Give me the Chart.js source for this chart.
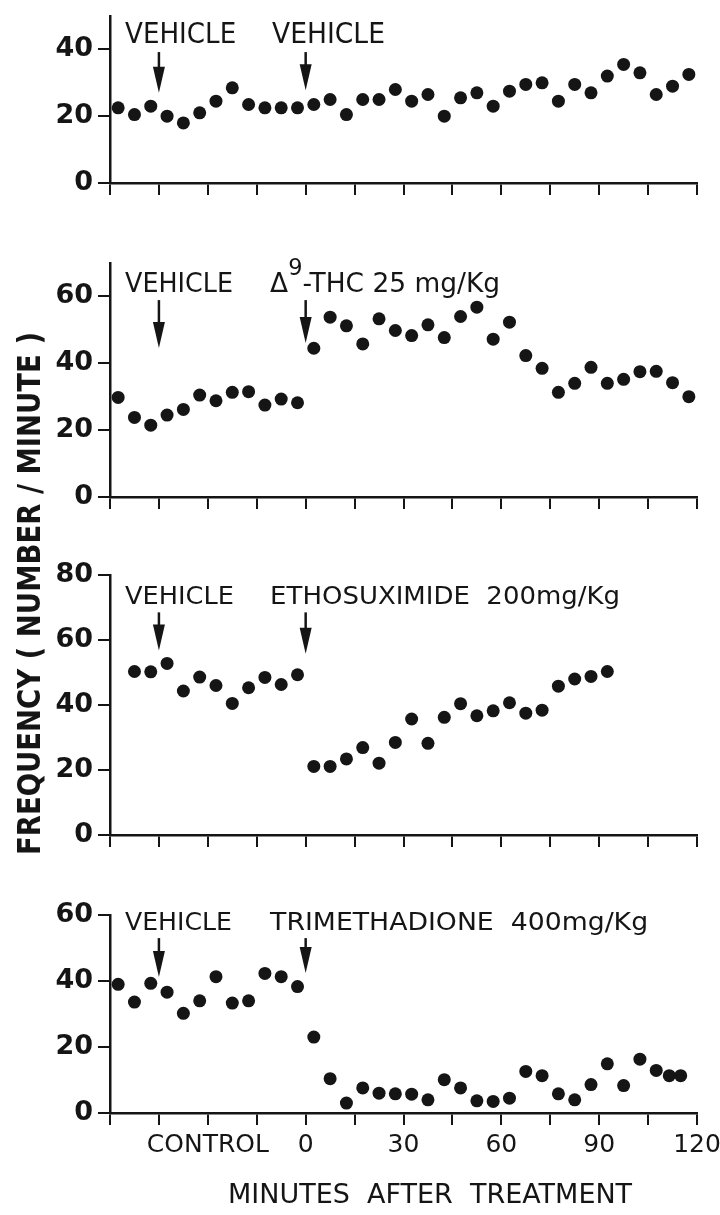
<!DOCTYPE html>
<html>
<head>
<meta charset="utf-8">
<script src="https://cdn.jsdelivr.net/npm/chart.js@4.4.1/dist/chart.umd.min.js"></script>
<style>
    body { margin: 0; background: #fff; width: 720px; height: 1215px; position: relative; overflow: hidden; }
    canvas { position: absolute; left: 0; }
</style>
</head>
<body>
<canvas id="panel1" width="720" height="215" style="top:0px"></canvas>
<canvas id="panel2" width="720" height="290" style="top:240px"></canvas>
<canvas id="panel3" width="720" height="320" style="top:550px"></canvas>
<canvas id="panel4" width="720" height="345" style="top:870px"></canvas>
<canvas id="ytitle" width="60" height="600" style="top:295px"></canvas>
<script>
// minutes after treatment (5-min bins)
const minutesFull = [-57.5, -52.5, -47.5, -42.5, -37.5, -32.5, -27.5, -22.5, -17.5, -12.5, -7.5, -2.5,
    2.5, 7.5, 12.5, 17.5, 22.5, 27.5, 32.5, 37.5, 42.5, 47.5, 52.5, 57.5,
    62.5, 67.5, 72.5, 77.5, 82.5, 87.5, 92.5, 97.5, 102.5, 107.5, 112.5, 117.5];
const minutesEtho = [-52.5, -47.5, -42.5, -37.5, -32.5, -27.5, -22.5, -17.5, -12.5, -7.5, -2.5,
    2.5, 7.5, 12.5, 17.5, 22.5, 27.5, 32.5, 37.5, 42.5, 47.5, 52.5, 57.5,
    62.5, 67.5, 72.5, 77.5, 82.5, 87.5, 92.5];
const minutesTrim = [-57.5, -52.5, -47.5, -42.5, -37.5, -32.5, -27.5, -22.5, -17.5, -12.5, -7.5, -2.5,
    2.5, 7.5, 12.5, 17.5, 22.5, 27.5, 32.5, 37.5, 42.5, 47.5, 52.5, 57.5,
    62.5, 67.5, 72.5, 77.5, 82.5, 87.5, 92.5, 97.5, 102.5, 107.5, 111.5, 115];

// frequency (number / minute)
const vehicleFreq = [22.5, 20.5, 23, 20, 18, 21, 24.5, 28.5, 23.5, 22.5, 22.5, 22.5,
    23.5, 25, 20.5, 25, 25, 28, 24.5, 26.5, 20, 25.5, 27, 23,
    27.5, 29.5, 30, 24.5, 29.5, 27, 32, 35.5, 33, 26.5, 29, 32.5];
const thcFreq = [29.8, 23.8, 21.5, 24.5, 26.2, 30.5, 28.8, 31.3, 31.5, 27.5, 29.3, 28.2,
    44.5, 53.8, 51.2, 45.8, 53.3, 49.8, 48.3, 51.5, 47.7, 54, 56.8, 47.2,
    52.3, 42.3, 38.5, 31.3, 34, 38.8, 34, 35.2, 37.5, 37.6, 34.2, 30];
const ethoFreq = [50.3, 50.2, 52.8, 44.3, 48.6, 46, 40.5, 45.3, 48.5, 46.3, 49.3,
    21.1, 21.1, 23.4, 26.9, 22.1, 28.5, 35.7, 28.2, 36.2, 40.4, 36.7, 38.2,
    40.7, 37.5, 38.4, 45.8, 48, 48.8, 50.3];
const trimFreq = [39, 33.6, 39.3, 36.6, 30.2, 34, 41.3, 33.3, 34, 42.3, 41.3, 38.3,
    23, 10.4, 3, 7.6, 6, 5.8, 5.7, 4, 10.1, 7.6, 3.7, 3.5,
    4.5, 12.6, 11.3, 5.8, 4, 8.6, 14.9, 8.3, 16.3, 12.9, 11.3, 11.3];

// axis ticks
const xTickValues = [-30, 0, 30, 60, 90, 120];
const xTickLabels = ["CONTROL", "0", "30", "60", "90", "120"];
const yMaxes = [50, 70, 80, 60];

const INK = "#151515";
const FONT = "'DejaVu Sans', 'Liberation Sans', sans-serif";

function pairs(xs, ys) {
    return xs.map((x, i) => ({ x, y: ys[i] }));
}

// text squeezed to a given width, like the condensed lettering of the figure
function drawFit(ctx, parts, x0, base, cap, width, weight) {
    const size = cap / 0.729;
    const fonts = parts.map(p => `${weight || "normal"} ${p.sup ? size * 0.85 : size}px ${FONT}`);
    const widths = parts.map((p, i) => { ctx.font = fonts[i]; return ctx.measureText(p.t).width; });
    const total = widths.reduce((a, b) => a + b, 0);
    ctx.save();
    ctx.translate(x0, base);
    ctx.scale(width / total, 1);
    ctx.textAlign = "left";
    ctx.textBaseline = "alphabetic";
    let cx = 0;
    parts.forEach((p, i) => {
        ctx.font = fonts[i];
        ctx.fillText(p.t, cx, p.sup ? -cap * 0.85 : 0);
        cx += widths[i];
    });
    ctx.restore();
}

function drawArrow(ctx, x, yTop, yBot) {
    const headLen = 26, headW = 6;
    ctx.lineWidth = 2.5;
    ctx.beginPath();
    ctx.moveTo(x, yTop);
    ctx.lineTo(x, yBot - headLen + 2);
    ctx.stroke();
    ctx.beginPath();
    ctx.moveTo(x - headW, yBot - headLen);
    ctx.lineTo(x + headW, yBot - headLen);
    ctx.lineTo(x, yBot);
    ctx.closePath();
    ctx.fill();
}

const annotate = {
    id: "annotate",
    afterDraw(chart, args, opts) {
        const { ctx, chartArea } = chart;
        const x = chart.scales.x, y = chart.scales.y;
        ctx.save();
        ctx.fillStyle = INK;
        ctx.strokeStyle = INK;
        (opts.arrows || []).forEach(a => {
            drawArrow(ctx, x.getPixelForValue(a.at), y.getPixelForValue(a.from), y.getPixelForValue(a.to));
        });
        (opts.labels || []).forEach(l => {
            const x0 = x.getPixelForValue(l.from);
            drawFit(ctx, l.parts, x0, y.getPixelForValue(l.base), l.cap, x.getPixelForValue(l.to) - x0);
        });
        if (opts.title) {
            const t = opts.title;
            const x0 = x.getPixelForValue(t.from);
            drawFit(ctx, [{ t: t.text }], x0, chartArea.bottom + t.below, t.cap, x.getPixelForValue(t.to) - x0);
        }
        ctx.restore();
    },
};

function makePanel(id, points, yMax, padTop, xHeight, showX, annotations) {
    const ctx = document.getElementById(id).getContext("2d");
    return new Chart(ctx, {
        type: "scatter",
        data: {
            datasets: [{
                data: points,
                backgroundColor: INK,
                borderWidth: 0,
                pointRadius: 6.5,
                pointHoverRadius: 6.5,
            }],
        },
        options: {
            responsive: false,
            animation: false,
            layout: { padding: { left: 0, right: 23, top: padTop, bottom: 0 } },
            plugins: { legend: { display: false }, tooltip: { enabled: false }, annotate: annotations },
            scales: {
                x: {
                    type: "linear",
                    min: -60,
                    max: 120,
                    ticks: {
                        stepSize: 15,
                        autoSkip: false,
                        maxRotation: 0,
                        color: INK,
                        padding: 5,
                        font: { family: FONT, size: 25 },
                        callback: v => {
                            if (!showX) return "";
                            const i = xTickValues.indexOf(v);
                            return i >= 0 ? xTickLabels[i] : "";
                        },
                    },
                    grid: { drawOnChartArea: false, tickLength: 12, color: INK, lineWidth: 2 },
                    border: { color: INK, width: 2.5 },
                    afterFit(s) { s.height = xHeight; s.paddingLeft = 0; s.paddingRight = 0; },
                },
                y: {
                    min: 0,
                    max: yMax,
                    ticks: {
                        stepSize: 10,
                        color: INK,
                        padding: 5,
                        font: { family: FONT, size: 27, weight: "bold" },
                        callback: v => (v % 20 === 0 ? String(v) : ""),
                    },
                    grid: { drawOnChartArea: false, tickLength: 12, color: INK, lineWidth: 2 },
                    border: { color: INK, width: 2.5 },
                    afterFit(s) { s.width = 110; s.paddingTop = 0; s.paddingBottom = 0; },
                },
            },
        },
        plugins: [annotate],
    });
}

makePanel("panel1", pairs(minutesFull, vehicleFreq), yMaxes[0], 16, 32, false, {
    arrows: [{ at: -45, from: 39.2, to: 27 }, { at: 0, from: 39.2, to: 27.8 }],
    labels: [
        { parts: [{ t: "VEHICLE" }], from: -55.4, to: -21.3, base: 41.9, cap: 21 },
        { parts: [{ t: "VEHICLE" }], from: -10.3, to: 24.3, base: 41.9, cap: 21 },
    ],
});

makePanel("panel2", pairs(minutesFull, thcFreq), yMaxes[1], 23, 33, false, {
    arrows: [{ at: -45, from: 58.9, to: 44.6 }, { at: 0, from: 58.9, to: 46.1 }],
    labels: [
        { parts: [{ t: "VEHICLE" }], from: -55.4, to: -22.3, base: 61.3, cap: 20 },
        { parts: [{ t: "Δ" }, { t: "9", sup: true }, { t: "-THC 25 mg/Kg" }], from: -10.9, to: 59.6, base: 61.3, cap: 20 },
    ],
});

makePanel("panel3", pairs(minutesEtho, ethoFreq), yMaxes[2], 25, 35, false, {
    arrows: [{ at: -45, from: 68.5, to: 56.8 }, { at: 0, from: 68.5, to: 55.8 }],
    labels: [
        { parts: [{ t: "VEHICLE" }], from: -55.4, to: -22, base: 71.2, cap: 18 },
        { parts: [{ t: "ETHOSUXIMIDE  200mg/Kg" }], from: -10.9, to: 96.4, base: 71.2, cap: 18 },
    ],
});

makePanel("panel4", pairs(minutesTrim, trimFreq), yMaxes[3], 45, 102, true, {
    arrows: [{ at: -45, from: 53, to: 41.2 }, { at: 0, from: 53, to: 42.4 }],
    labels: [
        { parts: [{ t: "VEHICLE" }], from: -55.4, to: -22.6, base: 55.5, cap: 18 },
        { parts: [{ t: "TRIMETHADIONE  400mg/Kg" }], from: -10.9, to: 105, base: 55.5, cap: 18 },
    ],
    title: { text: "MINUTES  AFTER  TREATMENT", from: -23.8, to: 100.1, below: 90, cap: 20 },
});

// shared y title, rotated
(function drawYTitle() {
    const ctx = document.getElementById("ytitle").getContext("2d");
    ctx.fillStyle = INK;
    ctx.save();
    ctx.translate(40, 560);
    ctx.rotate(-Math.PI / 2);
    drawFit(ctx, [{ t: "FREQUENCY ( NUMBER / MINUTE )" }], 0, 0, 23, 523, "bold");
    ctx.restore();
})();
</script>
</body>
</html>
